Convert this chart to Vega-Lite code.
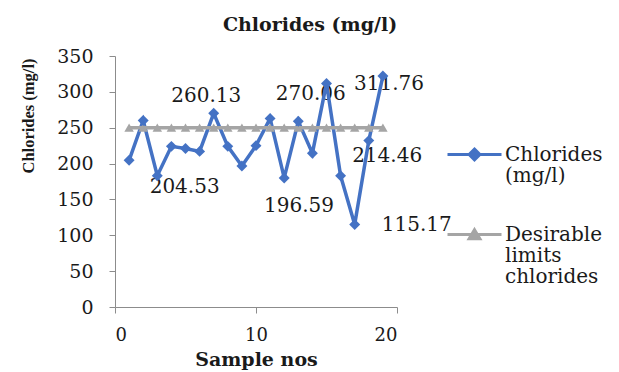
{
  "$schema": "https://vega.github.io/schema/vega-lite/v6.json",
  "width": 282,
  "height": 251,
  "autosize": {"type": "none"},
  "padding": {"left": 115, "top": 56, "right": 222, "bottom": 65},
  "background": "white",
  "title": {
    "text": "Chlorides  (mg/l)",
    "font": "DejaVu Serif",
    "fontSize": 19,
    "fontWeight": "bold",
    "color": "#1a1a1a",
    "anchor": "middle",
    "frame": "group",
    "dx": 54,
    "baseline": "alphabetic",
    "offset": -3
  },
  "config": {
    "view": {"stroke": null},
    "axis": {
      "grid": false,
      "domainColor": "#8c8c8c",
      "tickColor": "#8c8c8c",
      "tickSize": 6,
      "labelFont": "DejaVu Serif",
      "labelFontSize": 18,
      "labelColor": "#1a1a1a",
      "labelOverlap": false,
      "titleFont": "DejaVu Serif",
      "titleFontWeight": "bold",
      "titleColor": "#1a1a1a"
    }
  },
  "datasets": {
    "series": [
      {"sample": 1, "value": 204.53, "series": "Chlorides (mg/l)"},
      {"sample": 2, "value": 260.13, "series": "Chlorides (mg/l)"},
      {"sample": 3, "value": 183, "series": "Chlorides (mg/l)"},
      {"sample": 4, "value": 224, "series": "Chlorides (mg/l)"},
      {"sample": 5, "value": 221, "series": "Chlorides (mg/l)"},
      {"sample": 6, "value": 217, "series": "Chlorides (mg/l)"},
      {"sample": 7, "value": 270.06, "series": "Chlorides (mg/l)"},
      {"sample": 8, "value": 224, "series": "Chlorides (mg/l)"},
      {"sample": 9, "value": 196.59, "series": "Chlorides (mg/l)"},
      {"sample": 10, "value": 225, "series": "Chlorides (mg/l)"},
      {"sample": 11, "value": 263, "series": "Chlorides (mg/l)"},
      {"sample": 12, "value": 180, "series": "Chlorides (mg/l)"},
      {"sample": 13, "value": 259, "series": "Chlorides (mg/l)"},
      {"sample": 14, "value": 214.46, "series": "Chlorides (mg/l)"},
      {"sample": 15, "value": 311.76, "series": "Chlorides (mg/l)"},
      {"sample": 16, "value": 183, "series": "Chlorides (mg/l)"},
      {"sample": 17, "value": 115.17, "series": "Chlorides (mg/l)"},
      {"sample": 18, "value": 232, "series": "Chlorides (mg/l)"},
      {"sample": 19, "value": 322, "series": "Chlorides (mg/l)"},
      {"sample": 1, "value": 250, "series": "Desirable limits chlorides"},
      {"sample": 2, "value": 250, "series": "Desirable limits chlorides"},
      {"sample": 3, "value": 250, "series": "Desirable limits chlorides"},
      {"sample": 4, "value": 250, "series": "Desirable limits chlorides"},
      {"sample": 5, "value": 250, "series": "Desirable limits chlorides"},
      {"sample": 6, "value": 250, "series": "Desirable limits chlorides"},
      {"sample": 7, "value": 250, "series": "Desirable limits chlorides"},
      {"sample": 8, "value": 250, "series": "Desirable limits chlorides"},
      {"sample": 9, "value": 250, "series": "Desirable limits chlorides"},
      {"sample": 10, "value": 250, "series": "Desirable limits chlorides"},
      {"sample": 11, "value": 250, "series": "Desirable limits chlorides"},
      {"sample": 12, "value": 250, "series": "Desirable limits chlorides"},
      {"sample": 13, "value": 250, "series": "Desirable limits chlorides"},
      {"sample": 14, "value": 250, "series": "Desirable limits chlorides"},
      {"sample": 15, "value": 250, "series": "Desirable limits chlorides"},
      {"sample": 16, "value": 250, "series": "Desirable limits chlorides"},
      {"sample": 17, "value": 250, "series": "Desirable limits chlorides"},
      {"sample": 18, "value": 250, "series": "Desirable limits chlorides"},
      {"sample": 19, "value": 250, "series": "Desirable limits chlorides"}
    ],
    "labels": [
      {"lx": 6.47, "ly": 294, "text": "260.13"},
      {"lx": 4.94, "ly": 167.5, "text": "204.53"},
      {"lx": 13.88, "ly": 296.4, "text": "270.06"},
      {"lx": 13.05, "ly": 141.3, "text": "196.59"},
      {"lx": 19.43, "ly": 311.3, "text": "311.76"},
      {"lx": 19.3, "ly": 210.8, "text": "214.46"},
      {"lx": 21.4, "ly": 114.5, "text": "115.17"}
    ]
  },
  "layer": [
    {
      "data": {"name": "labels"},
      "mark": {"type": "text", "font": "DejaVu Serif", "fontSize": 20, "color": "#1a1a1a", "baseline": "middle", "align": "center"},
      "encoding": {
        "x": {"field": "lx", "type": "quantitative", "scale": {"domain": [0, 20]}},
        "y": {"field": "ly", "type": "quantitative", "scale": {"domain": [0, 350]}},
        "text": {"field": "text"}
      }
    },
    {
      "data": {"name": "series"},
      "mark": {"type": "line", "strokeWidth": 3.5},
      "encoding": {
        "x": {
          "field": "sample", "type": "quantitative",
          "scale": {"domain": [0, 20], "nice": false},
          "axis": {"values": [0, 10, 20], "title": "Sample nos", "titleFontSize": 19, "labelPadding": 13, "titlePadding": 6, "labelOverlap": false}
        },
        "y": {
          "field": "value", "type": "quantitative",
          "scale": {"domain": [0, 350], "nice": false},
          "axis": {
            "values": [0, 50, 100, 150, 200, 250, 300, 350],
            "tickCount": 8,
            "labelOverlap": false,
            "labelBound": false,
            "labelFontSize": 19,
            "title": "Chlorides (mg/l)",
            "titleFont": "Liberation Serif",
            "titleFontSize": 16.5,
            "titleY": 59.5,
            "titleX": -79,
            "titleAngle": -90,
            "titleAlign": "center",
            "titleBaseline": "bottom",
            "labelPadding": 16
          }
        },
        "color": {
          "field": "series", "type": "nominal",
          "scale": {"domain": ["Chlorides (mg/l)", "Desirable limits chlorides"], "range": ["#4472C4", "#A5A5A5"]},
          "legend": {
            "title": null,
            "orient": "none",
            "legendX": 331,
            "legendY": 70,
            "padding": 0,
            "symbolSize": 2916,
            "symbolStrokeWidth": 3,
            "labelFont": "DejaVu Serif",
            "labelFontSize": 20,
            "labelColor": "#1a1a1a",
            "labelOffset": 2,
            "labelBaseline": "middle",
            "labelLimit": 0,
            "rowPadding": 20,
            "labelExpr": "datum.label == 'Chlorides (mg/l)' ? ['Chlorides', '(mg/l)'] : ['Desirable', 'limits', 'chlorides']",
            "encode": {
              "symbols": {
                "update": {
                  "shape": {"signal": "datum.value == 'Chlorides (mg/l)' ? 'M-1,0H1M0,-0.2L0.2,0L0,0.2L-0.2,0Z' : 'M-1,0H1M0,-0.18L0.2,0.16L-0.2,0.16Z'"},
                  "size": {"value": 2916},
                  "fill": {"signal": "scale('color', datum.value)"},
                  "stroke": {"signal": "scale('color', datum.value)"},
                  "strokeWidth": {"value": 3},
                  "opacity": {"value": 1},
                  "fillOpacity": {"value": 1}
                }
              },
              "labels": {
                "update": {"lineHeight": {"value": 21}}
              }
            }
          }
        },
        "order": {"field": "sample"}
      }
    },
    {
      "data": {"name": "series"},
      "transform": [{"filter": "datum.series == 'Desirable limits chlorides'"}],
      "mark": {"type": "point", "filled": true, "opacity": 1, "shape": "triangle-up", "size": 90},
      "encoding": {
        "x": {"field": "sample", "type": "quantitative"},
        "y": {"field": "value", "type": "quantitative"},
        "color": {"field": "series", "type": "nominal", "legend": null}
      }
    },
    {
      "data": {"name": "series"},
      "transform": [{"filter": "datum.series == 'Chlorides (mg/l)'"}],
      "mark": {"type": "point", "filled": true, "opacity": 1, "shape": "diamond", "size": 120},
      "encoding": {
        "x": {"field": "sample", "type": "quantitative"},
        "y": {"field": "value", "type": "quantitative"},
        "color": {"field": "series", "type": "nominal", "legend": null}
      }
    }
  ]
}
